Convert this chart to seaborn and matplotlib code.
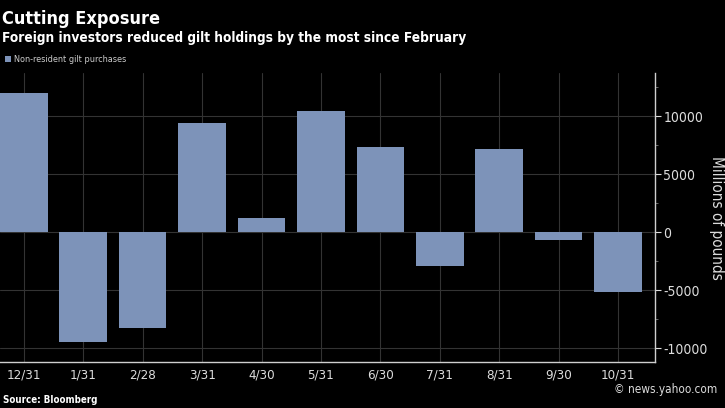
import matplotlib
matplotlib.use("Agg")
import matplotlib.pyplot as plt
import seaborn as sns
import pandas as pd
from matplotlib.ticker import MultipleLocator

# datos
fechas = ["12/31", "1/31", "2/28", "3/31", "4/30", "5/31", "6/30", "7/31", "8/31", "9/30", "10/31"]
compras = [11950, -9450, -8250, 9400, 1250, 10450, 7350, -2900, 7200, -650, -5200]
yticks = [-10000, -5000, 0, 5000, 10000]

df = pd.DataFrame({"fecha": fechas, "compras": compras})

sns.set_style("dark")
plt.rcParams["font.family"] = ["DejaVu Sans"]
plt.rcParams["font.stretch"] = "condensed"

fig = plt.figure(figsize=(7.25, 4.08), dpi=100, facecolor="black")
ax = fig.add_axes([0.0, 0.1127, 0.9034, 0.708])
ax.set_facecolor("black")

sns.barplot(data=df, x="fecha", y="compras", color="#7d93b9", saturation=1,
            width=0.8, ax=ax, zorder=3, edgecolor="none", linewidth=0)

ax.set_xlim(-0.4, 10.62)
ax.set_ylim(-11200, 13700)
ax.yaxis.tick_right()
ax.yaxis.set_label_position("right")
ax.set_yticks(yticks)
ax.set_yticklabels([str(v) for v in yticks])
ax.yaxis.set_minor_locator(MultipleLocator(2500))

ax.grid(True, axis="both", color="#333333", linewidth=0.8, zorder=0)
ax.set_axisbelow(True)

for s in ["top", "left"]:
    ax.spines[s].set_visible(False)
for s in ["right", "bottom"]:
    ax.spines[s].set_visible(True)
    ax.spines[s].set_color("#cfcfcf")
    ax.spines[s].set_linewidth(1)

ax.tick_params(axis="y", which="major", colors="#dddddd", labelsize=10, length=4, direction="out", pad=2)
ax.tick_params(axis="y", which="minor", colors="#777777", length=2)
ax.tick_params(axis="x", colors="#dddddd", labelsize=9.5, length=3, direction="out", pad=2)

ax.set_xlabel("")
ax.set_ylabel("Millions of pounds", color="#dddddd", fontsize=11, rotation=270, labelpad=12)

fig.text(0.003, 0.953, "Cutting Exposure", color="white", fontsize=13, fontweight="bold", va="center")
fig.text(0.003, 0.906, "Foreign investors reduced gilt holdings by the most since February",
         color="white", fontsize=9.8, fontweight="bold", va="center")

# leyenda manual
fig.patches.append(plt.Rectangle((0.007, 0.847), 0.008, 0.015, transform=fig.transFigure,
                                 facecolor="#7d93b9", edgecolor="none"))
fig.text(0.019, 0.854, "Non-resident gilt purchases", color="#cccccc", fontsize=6.5, va="center")

fig.text(0.004, 0.02, "Source: Bloomberg", color="white", fontsize=7, fontweight="bold", va="center")
fig.text(0.99, 0.045, "\u00a9 news.yahoo.com", color="#dddddd", fontsize=8.5, ha="right", va="center")

fig.savefig("out.png", dpi=100, facecolor="black")
